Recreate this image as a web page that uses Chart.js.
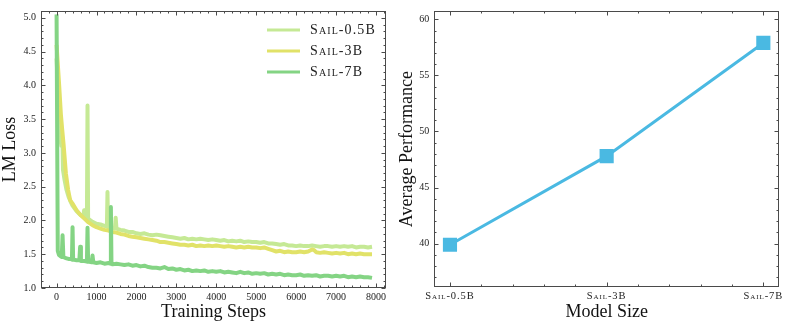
<!DOCTYPE html>
<html>
<head>
<meta charset="utf-8">
<script src="https://cdn.jsdelivr.net/npm/chart.js@4"></script>
<style>
    html, body { margin: 0; padding: 0; background: #fff; }
    #wrap { position: relative; width: 789px; height: 325px; }
    canvas { position: absolute; top: 0; }
    #lossChart { left: 0; }
    #perfChart { left: 392px; }
</style>
</head>
<body>
<div id="wrap">
    <canvas id="lossChart" width="392" height="325"></canvas>
    <canvas id="perfChart" width="397" height="325"></canvas>
</div>
<script>
// 左: 学習ロス曲線
const seriesNames = ['Sail-0.5B', 'Sail-3B', 'Sail-7B'];

const steps05 = [0, 60, 100, 120, 150, 160, 200, 250, 300, 350, 400, 450, 500, 600, 670, 690, 710, 760, 775, 790,
    850, 900, 1000, 1100, 1200, 1260, 1275, 1290, 1400, 1460, 1480, 1500,
    1600, 1700, 1800, 1900, 2000, 2100, 2200, 2300, 2400, 2500, 2600, 2700, 2800, 2900, 3000, 3100, 3200, 3300, 3400, 3500,
    3600, 3700, 3800, 3900, 4000, 4100, 4200, 4300, 4400, 4500, 4600, 4700, 4800, 4900, 5000, 5100, 5200, 5300, 5400, 5500,
    5600, 5700, 5800, 5900, 6000, 6100, 6200, 6300, 6400, 6500, 6600, 6700, 6800, 6900, 7000, 7100, 7200, 7300, 7400, 7500,
    7600, 7700, 7800, 7900];
const loss05 = [4.40, 3.60, 3.20, 3.10, 3.10, 2.75, 2.60, 2.45, 2.35, 2.28, 2.22, 2.18, 2.14, 2.08, 2.06, 2.15, 2.05, 2.03, 3.70, 2.03,
    2.00, 1.98, 1.95, 1.94, 1.92, 1.91, 2.42, 1.90, 1.89, 1.88, 2.04, 1.88,
    1.86, 1.85, 1.83, 1.83, 1.81, 1.80, 1.81, 1.79, 1.78, 1.79, 1.78, 1.77, 1.76, 1.75, 1.74, 1.73, 1.74, 1.72, 1.73, 1.72,
    1.73, 1.72, 1.71, 1.72, 1.71, 1.70, 1.71, 1.69, 1.70, 1.69, 1.70, 1.68, 1.69, 1.68, 1.68, 1.67, 1.68, 1.66, 1.66, 1.65,
    1.64, 1.65, 1.63, 1.63, 1.62, 1.63, 1.62, 1.62, 1.63, 1.62, 1.61, 1.62, 1.62, 1.61, 1.62, 1.61, 1.62, 1.61, 1.62, 1.60,
    1.61, 1.61, 1.60, 1.61];

const steps3 = [0, 65, 108, 140, 175, 233, 290, 340, 400, 440, 500, 600, 690, 800, 900, 1000, 1100, 1200, 1300, 1400, 1500,
    1600, 1700, 1800, 1900, 2000, 2100, 2200, 2300, 2400, 2500, 2600, 2700, 2800, 2900, 3000, 3100, 3200, 3300, 3400, 3500,
    3600, 3700, 3800, 3900, 4000, 4100, 4200, 4300, 4400, 4500, 4600, 4700, 4800, 4900, 5000, 5100, 5200, 5300, 5400, 5500,
    5600, 5700, 5800, 5900, 6000, 6100, 6200, 6300, 6400, 6450, 6500, 6600, 6700, 6800, 6900, 7000, 7100, 7200, 7300, 7400,
    7500, 7600, 7700, 7800, 7900];
const loss3 = [4.60, 4.00, 3.57, 3.35, 3.13, 2.70, 2.45, 2.30, 2.25, 2.21, 2.15, 2.08, 2.03, 1.97, 1.93, 1.90, 1.88, 1.86, 1.85, 1.83, 1.82,
    1.80, 1.79, 1.77, 1.76, 1.75, 1.74, 1.73, 1.72, 1.71, 1.70, 1.68, 1.68, 1.67, 1.66, 1.65, 1.64, 1.64, 1.63, 1.64, 1.62,
    1.63, 1.62, 1.63, 1.62, 1.63, 1.62, 1.61, 1.62, 1.61, 1.60, 1.61, 1.60, 1.61, 1.60, 1.60, 1.59, 1.60, 1.58, 1.56, 1.54,
    1.55, 1.53, 1.54, 1.53, 1.53, 1.54, 1.53, 1.54, 1.57, 1.56, 1.53, 1.52, 1.53, 1.52, 1.51, 1.52, 1.51, 1.52, 1.50, 1.51,
    1.50, 1.51, 1.50, 1.50, 1.50];

const steps7 = [0, 30, 60, 100, 130, 150, 170, 200, 250, 300, 360, 385, 400, 415, 500, 570, 590, 610, 700, 760, 775, 790,
    880, 900, 920, 1000, 1100, 1200, 1300, 1345, 1360, 1375, 1400, 1500,
    1600, 1700, 1800, 1900, 2000, 2100, 2200, 2300, 2400, 2500, 2600, 2700, 2800, 2900, 3000, 3100, 3200, 3300, 3400, 3500,
    3600, 3700, 3800, 3900, 4000, 4100, 4200, 4300, 4400, 4500, 4600, 4700, 4800, 4900, 5000, 5100, 5200, 5300, 5400, 5500,
    5600, 5700, 5800, 5900, 6000, 6100, 6200, 6300, 6400, 6500, 6600, 6700, 6800, 6900, 7000, 7100, 7200, 7300, 7400, 7500,
    7600, 7700, 7800, 7900];
const loss7 = [5.05, 1.55, 1.49, 1.47, 1.46, 1.78, 1.46, 1.45, 1.44, 1.43, 1.43, 1.42, 1.90, 1.42, 1.41, 1.41, 1.61, 1.40, 1.40, 1.39, 1.89, 1.39,
    1.38, 1.48, 1.38, 1.37, 1.38, 1.36, 1.37, 1.36, 2.20, 1.36, 1.35, 1.36,
    1.35, 1.34, 1.35, 1.33, 1.34, 1.32, 1.33, 1.31, 1.30, 1.30, 1.29, 1.31, 1.28, 1.29, 1.27, 1.28, 1.26, 1.27, 1.25, 1.26,
    1.25, 1.26, 1.24, 1.25, 1.24, 1.25, 1.23, 1.24, 1.23, 1.22, 1.24, 1.22, 1.23, 1.21, 1.22, 1.21, 1.22, 1.20, 1.21, 1.20,
    1.21, 1.19, 1.20, 1.19, 1.19, 1.20, 1.18, 1.19, 1.18, 1.19, 1.17, 1.18, 1.18, 1.17, 1.18, 1.17, 1.18, 1.16, 1.17, 1.16,
    1.17, 1.16, 1.16, 1.15];

const stepTicks = [0, 1000, 2000, 3000, 4000, 5000, 6000, 7000, 8000];
const lossTicks = [1.0, 1.5, 2.0, 2.5, 3.0, 3.5, 4.0, 4.5, 5.0];

// 右: モデルサイズ別の平均性能
const modelNames = ['Sail-0.5B', 'Sail-3B', 'Sail-7B'];
const avgPerformance = [39.9, 47.8, 57.9];
const perfTicks = [40, 45, 50, 55, 60];

const lossColors = ['#c5e995', '#e1e268', '#84d484'];
const perfColor = '#4ab9e2';

const serif = '"Liberation Serif", "Times New Roman", serif';
const tickFont = { family: serif, size: 10 };
const titleFont = { family: serif, size: 18, lineHeight: 1.1 };

// 枠線と内向きの目盛り（主・副）を四辺に描く
const frameTicks = {
    id: 'frameTicks',
    afterDraw(chart) {
        const { ctx, chartArea: a, scales } = chart;
        const L = Math.round(a.left) + 0.5, R = Math.round(a.right) - 0.5;
        const T = Math.round(a.top) + 0.5, B = Math.round(a.bottom) - 0.5;
        ctx.save();
        ctx.strokeStyle = '#4a4a4a';
        ctx.lineWidth = 1;
        ctx.strokeRect(L, T, R - L, B - T);
        ['x', 'y'].forEach(id => {
            const s = scales[id];
            const major = s.ticks.map(t => t.value);
            const minor = (major[1] - major[0]) / 5;
            const first = Math.ceil(s.min / minor - 1e-6);
            const last = Math.floor(s.max / minor + 1e-6);
            ctx.beginPath();
            for (let k = first; k <= last; k++) {
                const v = k * minor;
                const isMajor = major.some(m => Math.abs(m - v) < minor / 10);
                const len = isMajor ? 4 : 2;
                const p = Math.round(s.getPixelForValue(v)) + 0.5;
                if (s.isHorizontal()) {
                    ctx.moveTo(p, B); ctx.lineTo(p, B - len);
                    ctx.moveTo(p, T); ctx.lineTo(p, T + len);
                } else {
                    ctx.moveTo(L, p); ctx.lineTo(L + len, p);
                    ctx.moveTo(R, p); ctx.lineTo(R - len, p);
                }
            }
            ctx.stroke();
        });
        ctx.restore();
    }
};

// 右上の線凡例（スモールキャップス）
const lineLegend = {
    id: 'lineLegend',
    afterDraw(chart) {
        const { ctx, chartArea: a } = chart;
        ctx.save();
        ctx.font = 'small-caps 14px ' + serif;
        ctx.fontVariantCaps = 'small-caps';
        if ('letterSpacing' in ctx) ctx.letterSpacing = '1.1px';
        ctx.textBaseline = 'middle';
        ctx.textAlign = 'left';
        chart.data.datasets.forEach((ds, i) => {
            const y = a.top + 19 + i * 21;
            ctx.strokeStyle = ds.borderColor;
            ctx.lineWidth = 3;
            ctx.beginPath();
            ctx.moveTo(a.right - 119, y);
            ctx.lineTo(a.right - 86, y);
            ctx.stroke();
            ctx.fillStyle = '#222';
            ctx.fillText(ds.label, a.right - 76, y);
        });
        ctx.restore();
    }
};

// x軸ラベル（z:1 の層）に字間を付ける
const tickSpacing = {
    id: 'tickSpacing',
    afterDatasetsDraw(chart) {
        if ('letterSpacing' in chart.ctx) chart.ctx.letterSpacing = '0.9px';
    },
    afterDraw(chart) {
        if ('letterSpacing' in chart.ctx) chart.ctx.letterSpacing = '0px';
    }
};

function toPoints(xs, ys) {
    return xs.map((x, i) => ({ x: x, y: ys[i] }));
}

function lossDataset(i, xs, ys) {
    return {
        label: seriesNames[i],
        data: toPoints(xs, ys),
        borderColor: lossColors[i],
        borderWidth: 4,
        borderJoinStyle: 'round',
        pointRadius: 0,
        tension: 0,
        order: 2 - i
    };
}

new Chart(document.getElementById('lossChart'), {
    type: 'line',
    data: {
        datasets: [
            lossDataset(0, steps05, loss05),
            lossDataset(1, steps3, loss3),
            lossDataset(2, steps7, loss7)
        ]
    },
    options: {
        responsive: false,
        animation: false,
        layout: { padding: { top: 3, right: 6 } },
        plugins: { legend: { display: false }, tooltip: { enabled: false } },
        scales: {
            x: {
                type: 'linear',
                min: -390,
                max: 8250,
                grid: { display: false, drawTicks: false },
                border: { display: false },
                afterBuildTicks: s => { s.ticks = stepTicks.map(v => ({ value: v })); },
                afterFit: s => { s.height = 37; },
                ticks: { padding: 3, font: tickFont, color: '#222', maxRotation: 0, callback: v => String(v) },
                title: { display: true, text: 'Training Steps', font: titleFont, color: '#111', padding: { top: 0, bottom: 3 } }
            },
            y: {
                type: 'linear',
                min: 1.0,
                max: 5.1,
                grid: { display: false, drawTicks: false },
                border: { display: false },
                afterBuildTicks: s => { s.ticks = lossTicks.map(v => ({ value: v })); },
                afterFit: s => { s.width = 41; },
                ticks: { padding: 5, font: tickFont, color: '#222', callback: v => v.toFixed(1) },
                title: { display: true, text: 'LM Loss', font: titleFont, color: '#111', padding: { top: 0, bottom: 0 } }
            }
        }
    },
    plugins: [frameTicks, lineLegend]
});

new Chart(document.getElementById('perfChart'), {
    type: 'line',
    data: {
        datasets: [{
            label: 'Average Performance',
            data: avgPerformance.map((v, i) => ({ x: i, y: v })),
            borderColor: perfColor,
            backgroundColor: perfColor,
            borderWidth: 3,
            pointStyle: 'rect',
            pointRadius: 10,
            pointBorderWidth: 0,
            tension: 0
        }]
    },
    options: {
        responsive: false,
        animation: false,
        layout: { padding: { top: 3, right: 9 } },
        plugins: { legend: { display: false }, tooltip: { enabled: false } },
        scales: {
            x: {
                type: 'linear',
                min: -0.1,
                max: 2.1,
                grid: { display: false, drawTicks: false },
                border: { display: false },
                afterBuildTicks: s => { s.ticks = modelNames.map((_, i) => ({ value: i })); },
                afterFit: s => { s.height = 37.7; },
                ticks: {
                    padding: 3, color: '#222', maxRotation: 0, z: 1,
                    // weight 欄に small-caps を入れてフォント文字列へ渡す
                    font: { family: serif, size: 10.5, weight: 'small-caps' },
                    callback: v => modelNames[v]
                },
                title: { display: true, text: 'Model Size', font: titleFont, color: '#111', padding: { top: 0, bottom: 3 } }
            },
            y: {
                type: 'linear',
                min: 36.1,
                max: 60.75,
                grid: { display: false, drawTicks: false },
                border: { display: false },
                afterBuildTicks: s => { s.ticks = perfTicks.map(v => ({ value: v })); },
                afterFit: s => { s.width = 42.3; },
                ticks: { padding: 5, font: tickFont, color: '#222', callback: v => String(v) },
                title: { display: true, text: 'Average Performance', font: titleFont, color: '#111', padding: { top: 5, bottom: 0 } }
            }
        }
    },
    plugins: [frameTicks, tickSpacing]
});
</script>
</body>
</html>
